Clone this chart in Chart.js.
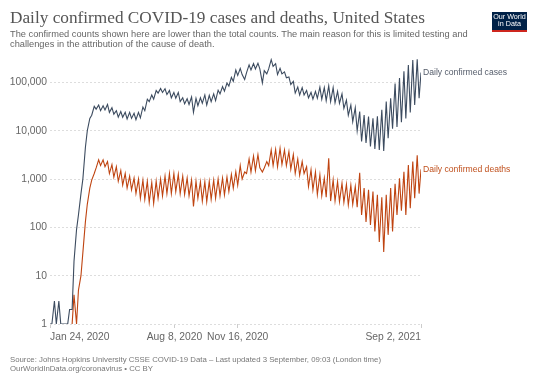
<!DOCTYPE html>
<html><head><meta charset="utf-8">
<script src="https://cdn.jsdelivr.net/npm/chart.js@4.4.0/dist/chart.umd.min.js"></script>
<style>
html,body{margin:0;padding:0;background:#fff;}
body{width:540px;height:381px;position:relative;overflow:hidden;font-family:'Liberation Sans',Arial,sans-serif;}
#c{position:absolute;left:0;top:0;}
.t{position:absolute;white-space:nowrap;}
#title{left:10px;top:7.6px;font-family:'Liberation Serif',serif;font-size:17.25px;line-height:20px;color:#555;}
#sub{left:10px;top:28.8px;font-size:9.27px;line-height:10px;color:#666;}
#src{left:10px;top:354.7px;font-size:7.8px;line-height:9.2px;color:#777;}
#logo{left:492px;top:12px;width:35px;height:17.5px;padding-top:0.5px;background:#002147;border-bottom:2px solid #ce261e;color:#fff;font-size:7.2px;line-height:7.6px;text-align:center;}
</style></head>
<body>
<canvas id="c" width="540" height="381"></canvas>
<div class="t" id="title">Daily confirmed COVID-19 cases and deaths, United States</div>
<div class="t" id="sub">The confirmed counts shown here are lower than the total counts. The main reason for this is limited testing and<br>challenges in the attribution of the cause of death.</div>
<div class="t" id="logo">Our World<br>in Data</div>
<div class="t" id="src">Source: Johns Hopkins University CSSE COVID-19 Data – Last updated 3 September, 09:03 (London time)<br>OurWorldInData.org/coronavirus • CC BY</div>
<script>
// x values are days since 22 Jan 2020
const tickDays = [2, 199, 299, 589];
const tickLabels = ['Jan 24, 2020', 'Aug 8, 2020', 'Nov 16, 2020', 'Sep 2, 2021'];
const yTicks = [1, 10, 100, 1000, 10000, 100000];
const seriesNames = ['Daily confirmed cases', 'Daily confirmed deaths'];

// weekly readings: Friday value and following Monday value, from week of 20 Jan 2020
const casesFri = [1, 3, 3, 1, 1, 2, 90, 500, 4500, 18000,
 32000, 34000, 33000, 35000, 30000, 26000, 25000, 24000, 24000, 23000,
 24000, 31000, 45000, 55000, 68000, 75000, 74000, 68000, 62000, 62000,
 48000, 46000, 50000, 47000, 48000, 55000, 54000, 58000, 69000, 82000,
 97000, 127000, 180000, 195000, 115000, 230000, 245000, 250000, 98000, 150000,
 295000, 245000, 195000, 165000, 130000, 105000, 80000, 78000, 68000, 62000,
 65000, 80000, 78000, 85000, 78000, 65000, 58000, 43000, 34000, 30000,
 25000, 21000, 19600, 18000, 20000, 27000, 40000, 47000, 95000, 123000,
 170000, 230000, 290000, 300000, 160000];
const casesMon = [1, 1, 1, 1, 2, 20, 180, 1000, 10000, 21000,
 28000, 26000, 27000, 24000, 22000, 19000, 19000, 17500, 18000, 17000,
 18500, 26000, 40000, 45000, 60000, 62000, 56000, 48000, 47000, 40000,
 36000, 35000, 24000, 33000, 37000, 34000, 40000, 42000, 58000, 66000,
 84000, 105000, 140000, 145000, 160000, 180000, 190000, 190000, 175000, 190000,
 215000, 145000, 150000, 125000, 90000, 60000, 55000, 55000, 48000, 45000,
 47000, 45000, 42000, 40000, 38000, 37000, 29000, 21000, 15400, 10000,
 6000, 5600, 4700, 4200, 4000, 3800, 7000, 11000, 12000, 15000,
 18000, 24000, 34000, 47000];
const deathsFri = [null, null, null, null, null, 1, 1, 10, 130, 650,
 1300, 2500, 2500, 2300, 2000, 1800, 1500, 1300, 1150, 1050,
 1000, 950, 900, 850, 900, 1000, 1150, 1300, 1300, 1250,
 1150, 1050, 950, 900, 880, 880, 900, 950, 1000, 1050,
 1100, 1250, 1420, 1900, 1400, 2600, 3000, 3200, 1400, 2300,
 4000, 4100, 4300, 4000, 3700, 3200, 2600, 2300, 1800, 1550,
 1400, 1220, 1050, 2700, 960, 880, 820, 780, 750, 700,
 1350, 650, 600, 550, 470, 420, 470, 650, 800, 1040,
 1420, 1950, 2300, 3100, 1600];
const deathsMon = [null, null, null, null, null, 4, 5, 30, 300, 950,
 1700, 1900, 1800, 1300, 1100, 900, 750, 650, 600, 500,
 400, 380, 330, 315, 400, 450, 500, 500, 550, 500,
 480, 450, 270, 400, 350, 340, 380, 400, 450, 470,
 550, 650, 750, 1000, 1300, 1400, 1500, 1700, 1700, 1900,
 1900, 1800, 2000, 1900, 1600, 1300, 1200, 1300, 700, 600,
 480, 450, 420, 350, 350, 340, 330, 290, 300, 260,
 180, 130, 112, 82, 50, 31, 70, 82, 180, 220,
 180, 250, 400, 500];

const lastDay = tickDays[tickDays.length - 1];
function weekly(fri, mon) {
  const pts = [];
  for (let k = 0; k < fri.length; k++) {
    pts.push({x: Math.min(7 * k + 2, lastDay), y: fri[k]});
    if (k < mon.length) pts.push({x: 7 * k + 5, y: mon[k]});
  }
  return pts;
}

const endLabels = {
  id: 'endLabels',
  afterDatasetsDraw(chart) {
    const {ctx, chartArea, scales} = chart;
    chart.data.datasets.forEach(ds => {
      const last = ds.data[ds.data.length - 1];
      const y = scales.y.getPixelForValue(last.y);
      ctx.save();
      ctx.font = '8.6px "Liberation Sans", Arial, sans-serif';
      ctx.fillStyle = ds.labelColor;
      ctx.textBaseline = 'middle';
      ctx.textAlign = 'left';
      ctx.fillText(ds.label, chartArea.right + 2, y);
      ctx.restore();
    });
  }
};

const tickFont = {family: '"Liberation Sans", Arial, sans-serif', size: 10.3};

new Chart(document.getElementById('c'), {
  type: 'line',
  data: {
    datasets: [
      {label: seriesNames[0], data: weekly(casesFri, casesMon), borderColor: '#3c4b5f', borderWidth: 1.1,
       pointRadius: 0, tension: 0, spanGaps: false, labelColor: '#555d6b'},
      {label: seriesNames[1], data: weekly(deathsFri, deathsMon), borderColor: '#bf4411', borderWidth: 1.1,
       pointRadius: 0, tension: 0, spanGaps: false, labelColor: '#c0511e'}
    ]
  },
  options: {
    responsive: false,
    animation: false,
    devicePixelRatio: 1,
    layout: {padding: {top: 58, left: 0, right: 119, bottom: 33}},
    plugins: {legend: {display: false}, tooltip: {enabled: false}},
    scales: {
      x: {
        type: 'linear', min: tickDays[0], max: lastDay,
        afterBuildTicks: s => { s.ticks = tickDays.map(v => ({value: v})); },
        afterFit: s => { s.height = 24; },
        ticks: {autoSkip: false, maxRotation: 0, minRotation: 0, align: 'inner', padding: 3,
                color: '#666', font: tickFont,
                callback: v => tickLabels[tickDays.indexOf(v)]},
        grid: {drawOnChartArea: false, drawTicks: true, tickLength: 4, color: '#ccc'},
        border: {display: false}
      },
      y: {
        type: 'logarithmic', min: 1, max: 320000,
        afterBuildTicks: s => { s.ticks = yTicks.map(v => ({value: v})); },
        afterFit: s => { s.width = 50; },
        ticks: {padding: 3, color: '#666', font: tickFont,
                callback: v => Number(v).toLocaleString('en-US')},
        grid: {color: '#ddd', drawTicks: false},
        border: {display: false, dash: [2, 2]}
      }
    }
  },
  plugins: [endLabels]
});
</script>
</body></html>
